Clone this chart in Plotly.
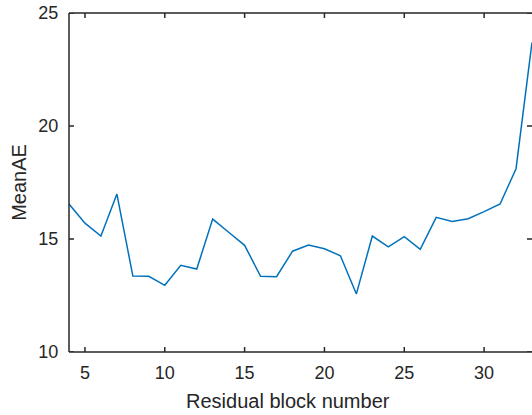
import plotly.graph_objects as go

blocks = list(range(4, 34))
mean_ae = [16.55, 15.7, 15.13, 16.99, 13.36, 13.35, 12.95, 13.84, 13.67, 15.88,
           15.3, 14.72, 13.35, 13.33, 14.46, 14.73, 14.57, 14.26, 12.57, 15.13,
           14.65, 15.1, 14.54, 15.96, 15.78, 15.9, 16.21, 16.55, 18.11, 23.7]
x_ticks = [5, 10, 15, 20, 25, 30]
y_ticks = [10, 15, 20, 25]
x_title = "Residual block number"
y_title = "MeanAE"

axc = "#262626"
font = "Liberation Sans, Arial, sans-serif"
W, H = 532, 415
ML, MR, MT, MB = 69, 0, 13, 63
TL = 5  # tick length in px
fx = TL / (W - ML - MR)
fy = TL / (H - MT - MB)

fig = go.Figure()
fig.add_trace(go.Scatter(x=blocks, y=mean_ae, mode="lines",
                         line=dict(color="#0072BD", width=1.5), showlegend=False,
                         hoverinfo="skip"))

shapes = []
ln = dict(color=axc, width=1.5)
# box frame drawn in paper coordinates (not clipped): left, bottom, top
shapes.append(dict(type="line", xref="paper", yref="paper", x0=0, x1=0, y0=0, y1=1, line=ln, layer="above"))
shapes.append(dict(type="line", xref="paper", yref="paper", x0=0, x1=1, y0=0, y1=0, line=ln, layer="above"))
shapes.append(dict(type="line", xref="paper", yref="paper", x0=0, x1=1, y0=1, y1=1, line=ln, layer="above"))
# inside ticks, mirrored
for t in x_ticks:
    shapes.append(dict(type="line", xref="x", yref="paper", x0=t, x1=t, y0=0, y1=fy, line=ln, layer="above"))
    shapes.append(dict(type="line", xref="x", yref="paper", x0=t, x1=t, y0=1, y1=1 - fy, line=ln, layer="above"))
for t in y_ticks:
    shapes.append(dict(type="line", xref="paper", yref="y", x0=0, x1=fx, y0=t, y1=t, line=ln, layer="above"))
    shapes.append(dict(type="line", xref="paper", yref="y", x0=1, x1=1 - fx, y0=t, y1=t, line=ln, layer="above"))

fig.update_layout(
    width=W, height=H,
    template="none",
    margin=dict(l=ML, r=MR, t=MT, b=MB, autoexpand=False),
    paper_bgcolor="white", plot_bgcolor="white",
    font=dict(family=font, size=18, color=axc),
    shapes=shapes,
    annotations=[dict(text=x_title, xref="paper", yref="paper", x=0.472, y=0,
                      xanchor="center", yanchor="top", yshift=-36, showarrow=False,
                      font=dict(size=20, color=axc))],
)
fig.update_xaxes(range=[4, 33], tickvals=x_ticks, ticks="outside", ticklen=4,
                 tickcolor="rgba(0,0,0,0)", showline=False,
                 showgrid=False, zeroline=False, automargin=False)
fig.update_yaxes(range=[10, 25], tickvals=y_ticks, ticks="outside", ticklen=6,
                 tickcolor="rgba(0,0,0,0)", showline=False,
                 showgrid=False, zeroline=False, automargin=False,
                 title=dict(text=y_title, font=dict(size=20), standoff=6))

fig.write_html("out.html", config={"displayModeBar": False, "staticPlot": True},
               post_script="document.body.style.margin='0';document.body.style.overflow='hidden';")
